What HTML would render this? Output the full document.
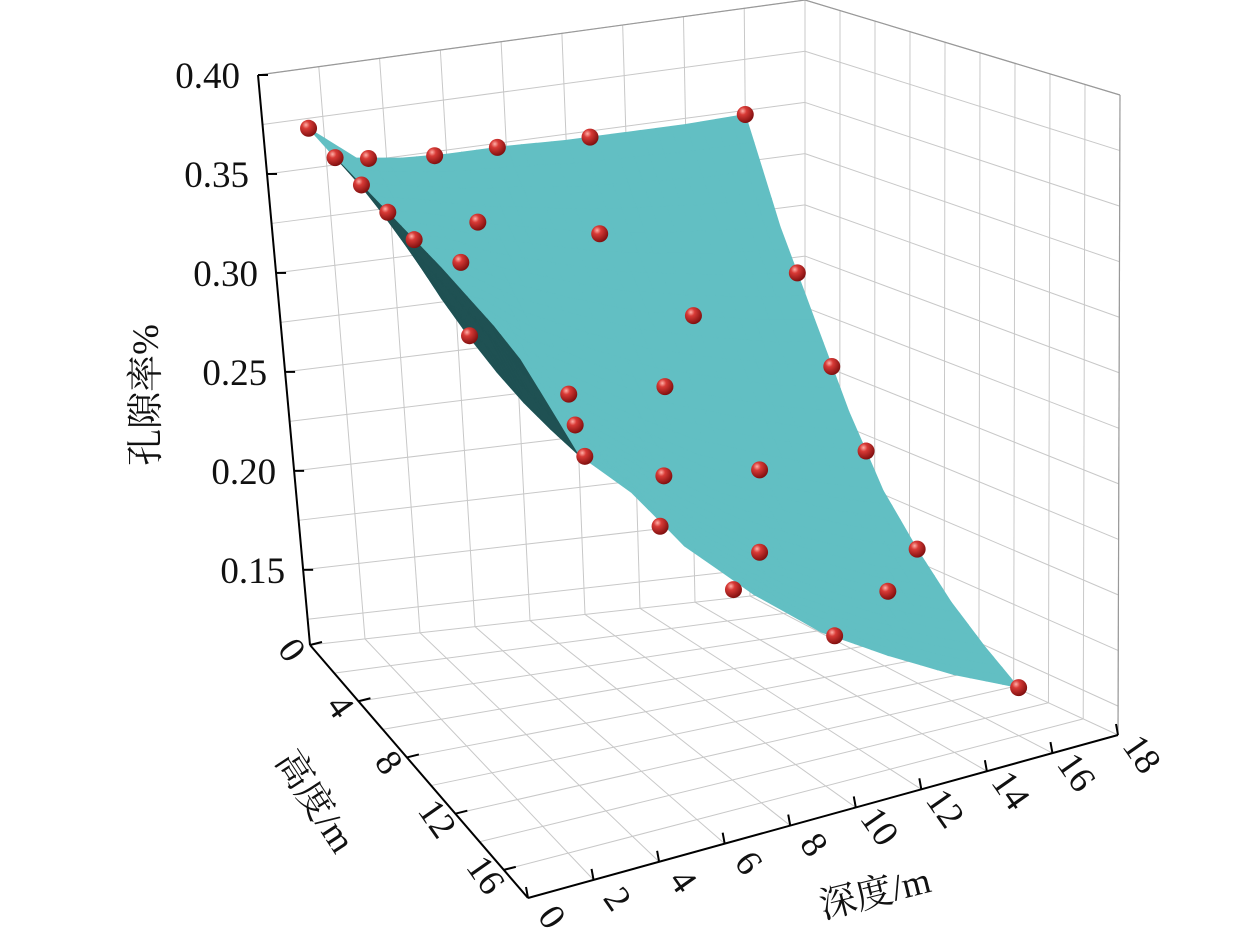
<!DOCTYPE html>
<html><head><meta charset="utf-8">
<style>
body{margin:0;background:#fff;}
svg{display:block;font-family:"Liberation Serif","Noto Serif CJK SC",serif;}
</style></head>
<body>
<svg id="chart" width="1259" height="951" viewBox="0 0 1259 951" xmlns="http://www.w3.org/2000/svg">
<g id="grid"></g>
<g id="surf"></g>
<g id="pts"></g>
<g id="axes"></g>
<defs>
<radialGradient id="ball" cx="0.35" cy="0.3" r="0.75">
<stop offset="0" stop-color="#ffb0a8"/><stop offset="0.3" stop-color="#d83a36"/><stop offset="1" stop-color="#7a0c0c"/>
</radialGradient>
</defs>
</svg>
<script>
// ---- data ----
const gridDepths = [1.5,3,4.5,6,8,10,12,14,16];
const gridHeights = [0,2,4,6,8,10,12,14,16];
// surface porosity, rows = heights, cols = depths
const surfaceRows = [
[0.370,0.352,0.349,0.348,0.348,0.347,0.347,0.347,0.348],
[0.368,0.338,0.3327,0.3245,0.3173,0.3105,0.3062,0.3024,0.300],
[0.367,0.327,0.3198,0.3059,0.2930,0.2816,0.2739,0.2670,0.262],
[0.366,0.318,0.3072,0.2877,0.2693,0.2535,0.2424,0.2326,0.225],
[0.365,0.311,0.2970,0.2730,0.2501,0.2307,0.2169,0.2047,0.195],
[0.364,0.306,0.2902,0.2632,0.2373,0.2155,0.1999,0.1861,0.175],
[0.362,0.303,0.2844,0.2549,0.2264,0.2026,0.1855,0.1703,0.158],
[0.360,0.302,0.2800,0.2485,0.2181,0.1927,0.1744,0.1582,0.145],
[0.356,0.302,0.2762,0.2431,0.2110,0.1844,0.1651,0.1480,0.134]
];
const ptDepth  = [1.5,3.4,5.6,7.7,10.8,16, 16,16,16,16,16, 1.5,1.5,1.5,1.5, 3.2,5.3,7.4,10.4, 4.5,6,10,6,10,8,12,10,14,12,3,4.5];
const ptHeight = [0,0,0,0,0,0,             3,5,7,10,16,   2,4,6,8,         16,16,16,16,     4,2,2,8,6,10,8,12,12,4,8,12];
const ptPoro   = [0.370,0.351,0.348,0.348,0.347,0.348, 0.281,0.243,0.210,0.175,0.134, 0.368,0.367,0.366,0.365, 0.300,0.256,0.216,0.181, 0.320,0.325,0.310,0.273,0.254,0.237,0.217,0.203,0.170,0.274,0.312,0.286];
const zTicks = [0.15,0.20,0.25,0.30,0.35,0.40];
const zTickLabels = ["0.15","0.20","0.25","0.30","0.35","0.40"];
const hTicks = [0,4,8,12,16];
const dTicks = [0,2,4,6,8,10,12,14,16,18];

// ---- projection ----
const ZMIN=0.112, ZMAX=0.40, DMAX=18, HMAX=18;
const F={a:[310,645],b:[528,898],c:[805,590],d:[1118,735]};
const T={a:[258,75],b:[488,313],c:[805,0],d:[1120,95]};
function bil(Q,u,v){
  const r=[];
  for(let i=0;i<2;i++){
    const l=Q.a[i]+(Q.b[i]-Q.a[i])*v, rr=Q.c[i]+(Q.d[i]-Q.c[i])*v;
    r.push(l+(rr-l)*u);
  }
  return r;
}
function P(d,h,z){
  const u=d/DMAX,v=h/HMAX,t=(z-ZMIN)/(ZMAX-ZMIN);
  const f=bil(F,u,v),g=bil(T,u,v);
  return [f[0]+(g[0]-f[0])*t, f[1]+(g[1]-f[1])*t];
}
const NS="http://www.w3.org/2000/svg";
function mk(tag,attrs,parent){const e=document.createElementNS(NS,tag);for(const k in attrs)e.setAttribute(k,attrs[k]);parent.appendChild(e);return e;}
function line(p,q,col,w,parent,name){
  const e=mk('line',{x1:p[0],y1:p[1],x2:q[0],y2:q[1],stroke:col,'stroke-width':w},parent);
  
  
  return e;
}
const grid=document.getElementById('grid');
const GC='#c8c8c8';
for(let d=0;d<=18;d+=2){
  line(P(d,0,ZMIN),P(d,0,ZMAX),GC,1,grid,'left-wall-gridline');
  line(P(d,0,ZMIN),P(d,18,ZMIN),GC,1,grid,'floor-gridline');
}
for(let h=0;h<=18;h+=2){
  line(P(18,h,ZMIN),P(18,h,ZMAX),GC,1,grid,'back-wall-gridline');
  line(P(0,h,ZMIN),P(18,h,ZMIN),GC,1,grid,'floor-gridline');
}
for(let z=0.125;z<=0.4001;z+=0.025){
  line(P(0,0,z),P(18,0,z),GC,1,grid,'left-wall-gridline');
  line(P(18,0,z),P(18,18,z),GC,1,grid,'back-wall-gridline');
}
line(P(0,0,ZMAX),P(18,0,ZMAX),'#999',1.2,grid,'top-edge');
line(P(18,0,ZMAX),P(18,18,ZMAX),'#999',1.2,grid,'top-edge');
line(P(18,18,ZMIN),P(18,18,ZMAX),'#999',1.2,grid,'right-edge');

// ---- surface ----
const surf=document.getElementById('surf');
function idx(arr,v){let j=0;while(j<arr.length-2&&v>arr[j+1])j++;return j;}
function sv(d,h){
  const j=idx(gridDepths,d),i=idx(gridHeights,h);
  const fu=(d-gridDepths[j])/(gridDepths[j+1]-gridDepths[j]);
  const fv=(h-gridHeights[i])/(gridHeights[i+1]-gridHeights[i]);
  const a=surfaceRows[i][j],b=surfaceRows[i][j+1],c=surfaceRows[i+1][j],e=surfaceRows[i+1][j+1];
  return (a*(1-fu)+b*fu)*(1-fv)+(c*(1-fu)+e*fu)*fv;
}
const D0=gridDepths[0],D1=gridDepths[gridDepths.length-1],H0=gridHeights[0],H1=gridHeights[gridHeights.length-1];
const S=0.5,cells=[];
for(let h=H0;h<H1-1e-9;h+=S)for(let d=D0;d<D1-1e-9;d+=S)cells.push([d,h]);
cells.sort((A,B)=>(B[0]-B[1])-(A[0]-A[1]));
function cross(p0,p1,p2){return (p1[0]-p0[0])*(p2[1]-p0[1])-(p1[1]-p0[1])*(p2[0]-p0[0]);}
const fs=Math.sign(cross(P(0,0,ZMIN),P(1,0,ZMIN),P(0,1,ZMIN)));
for(const [d,h] of cells){
  const d2=Math.min(d+S,D1),h2=Math.min(h+S,H1);
  const q=[P(d,h,sv(d,h)),P(d2,h,sv(d2,h)),P(d2,h2,sv(d2,h2)),P(d,h2,sv(d,h2))];
  const s=Math.sign(cross(q[0],q[1],q[3]));
  const col=(s===fs)?'#62bfc3':'#1f5153';
  const e=mk('polygon',{points:q.map(p=>p.join(',')).join(' '),fill:col,stroke:col,'stroke-width':0.8},surf);
  
  
}

// ---- points ----
const pts=document.getElementById('pts');
for(let k=0;k<ptDepth.length;k++){
  const p=P(ptDepth[k],ptHeight[k],ptPoro[k]);
  const e=mk('circle',{cx:p[0],cy:p[1],r:8.5,fill:'url(#ball)'},pts);
  
  
}

// ---- axes ----
const ax=document.getElementById('axes');
line(P(0,0,ZMIN),P(0,0,ZMAX),'#000',2,ax,'z-axis-line');
line(P(0,0,ZMIN),P(0,18,ZMIN),'#000',2,ax,'height-axis-line');
line(P(0,18,ZMIN),P(18,18,ZMIN),'#000',2,ax,'depth-axis-line');
function txt(s,x,y,size,rot,anchor,name){
  const e=mk('text',{x:x,y:y,'font-size':size,'text-anchor':anchor||'middle',fill:'#111'},ax);
  if(rot)e.setAttribute('transform',`rotate(${rot} ${x} ${y})`);
  e.textContent=s;
  
  
  return e;
}
zTicks.forEach((z,i)=>{
  const p=P(0,0,z);
  line(p,[p[0]+10,p[1]],'#000',2,ax,'z-tick');
  txt(zTickLabels[i],p[0]-18,p[1]+13,37,0,'end','z-tick-label');
});
hTicks.forEach(h=>{
  const p=P(0,h,ZMIN);
  line(p,[p[0]+12,p[1]-3],'#000',2,ax,'height-tick');
  txt(String(h),p[0]-28,p[1]+12,37,55,'middle','height-tick-label');
});
dTicks.forEach(d=>{
  const p=P(d,18,ZMIN);
  line(p,[p[0]-2,p[1]-11],'#000',2,ax,'depth-tick');
  txt(String(d),p[0]+14,p[1]+26,37,55,'middle','depth-tick-label');
});
txt('孔隙率%',158,395,37,-90,'middle','z-axis-title');
txt('高度/m',305,808,37,57,'middle','height-axis-title');
txt('深度/m',878,905,37,-14,'middle','depth-axis-title');
</script>
</body></html>
